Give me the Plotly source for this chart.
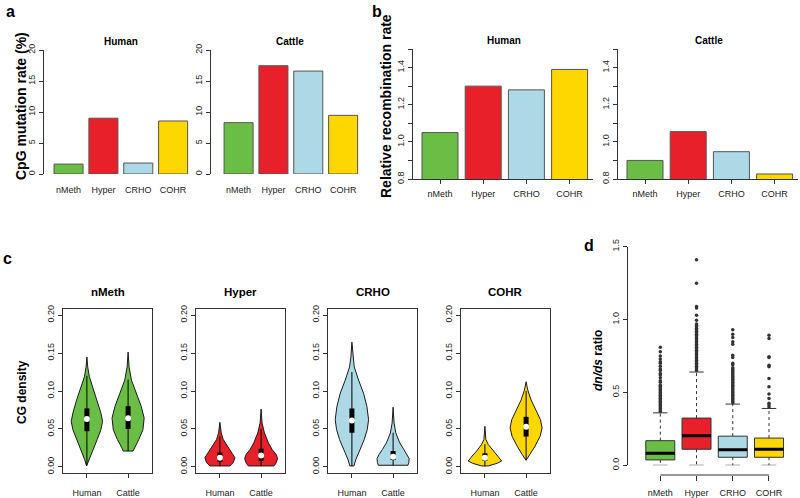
import plotly.graph_objects as go

W, H = 800, 498
def fx(p): return p / W
def fy(p): return 1 - p / H

FONT = "Liberation Sans, Arial, sans-serif"
DARK = "#333333"

# ---------------- data ----------------
categories = ["nMeth", "Hyper", "CRHO", "COHR"]
species = ["Human", "Cattle"]
colors = ["#6ABD45", "#E8202A", "#ADD8E6", "#FFD700"]

# panel a: CpG mutation rate (%)
cpg_human = [1.6, 9.0, 1.77, 8.55]
cpg_cattle = [8.28, 17.47, 16.6, 9.46]
cpg_ticks = [0, 5, 10, 15, 20]

# panel b: relative recombination rate
recomb_human = [1.05, 1.30, 1.28, 1.39]
recomb_cattle = [0.90, 1.055, 0.947, 0.827]
recomb_ticks = [0.8, 0.9, 1.0, 1.1, 1.2, 1.3, 1.4, 1.5]
recomb_ticktext = ["0.8", "", "1.0", "", "1.2", "", "1.4", ""]

# panel c: CG density violins (profile: y level, half-width)
v_nmeth_human_y = [0.1448, 0.1317, 0.1187, 0.110, 0.099, 0.0883, 0.0709, 0.060, 0.0491, 0.0361, 0.023, 0.010, 0.0013]
v_nmeth_human_w = [0.0, 0.02, 0.06, 0.113, 0.18, 0.25, 0.34, 0.38, 0.34, 0.25, 0.154, 0.057, 0.008]
v_nmeth_cattle_y = [0.1513, 0.1317, 0.1143, 0.097, 0.0796, 0.0643, 0.0491, 0.0361, 0.0252, 0.0209]
v_nmeth_cattle_w = [0.0, 0.024, 0.081, 0.20, 0.32, 0.39, 0.36, 0.26, 0.15, 0.12]
v_hyper_human_y = [0.0587, 0.0448, 0.0361, 0.0274, 0.0187, 0.0122, 0.0057, 0.0013]
v_hyper_human_w = [0.0, 0.032, 0.081, 0.178, 0.283, 0.364, 0.324, 0.24]
v_hyper_cattle_y = [0.0761, 0.0578, 0.0448, 0.0317, 0.023, 0.0165, 0.0109, 0.0048, 0.0013]
v_hyper_cattle_w = [0.0, 0.024, 0.081, 0.178, 0.267, 0.364, 0.40, 0.36, 0.31]
v_crho_human_y = [0.1643, 0.1448, 0.1317, 0.1143, 0.097, 0.0796, 0.0622, 0.0491, 0.0361, 0.023, 0.010, 0.0013]
v_crho_human_w = [0.0, 0.024, 0.057, 0.162, 0.283, 0.364, 0.405, 0.372, 0.30, 0.20, 0.097, 0.05]
v_crho_cattle_y = [0.0787, 0.0578, 0.0448, 0.0317, 0.023, 0.0165, 0.0109, 0.0057, 0.0022]
v_crho_cattle_w = [0.0, 0.024, 0.065, 0.162, 0.26, 0.34, 0.39, 0.38, 0.36]
v_cohr_human_y = [0.0535, 0.0361, 0.0296, 0.0209, 0.0143, 0.0078, 0.0048, 0.0013]
v_cohr_human_w = [0.0, 0.024, 0.081, 0.20, 0.31, 0.405, 0.30, 0.08]
v_cohr_cattle_y = [0.1122, 0.1013, 0.0883, 0.0752, 0.0622, 0.0513, 0.0404, 0.0274, 0.0165, 0.0087]
v_cohr_cattle_w = [0.0, 0.04, 0.12, 0.243, 0.348, 0.388, 0.34, 0.218, 0.097, 0.0]

cg_median_human = [0.063, 0.012, 0.061, 0.012]
cg_q1_human = [0.047, 0.007, 0.045, 0.008]
cg_q3_human = [0.077, 0.019, 0.077, 0.018]
cg_lo_human = [0.002, 0.001, 0.001, 0.001]
cg_hi_human = [0.120, 0.040, 0.125, 0.030]
cg_median_cattle = [0.064, 0.015, 0.0135, 0.053]
cg_q1_cattle = [0.050, 0.008, 0.009, 0.040]
cg_q3_cattle = [0.080, 0.024, 0.021, 0.066]
cg_lo_cattle = [0.021, 0.001, 0.002, 0.009]
cg_hi_cattle = [0.115, 0.050, 0.045, 0.100]
cg_ticks = [0.0, 0.05, 0.10, 0.15, 0.20]

# panel d: dn/ds boxplots
dnds_q1 = [0.037, 0.110, 0.055, 0.055]
dnds_median = [0.082, 0.203, 0.107, 0.110]
dnds_q3 = [0.169, 0.324, 0.200, 0.187]
dnds_lower = [0.0, 0.0, 0.0, 0.0]
dnds_upper = [0.36, 0.64, 0.42, 0.39]
out_nmeth = [0.37, 0.38, 0.39, 0.40, 0.41, 0.42, 0.43, 0.44, 0.45, 0.46, 0.47, 0.48, 0.49, 0.50,
             0.51, 0.52, 0.53, 0.54, 0.55, 0.57, 0.58, 0.60, 0.62, 0.63, 0.65, 0.66, 0.68, 0.70,
             0.71, 0.73, 0.75, 0.78, 0.81]
out_hyper = [0.65, 0.66, 0.67, 0.68, 0.69, 0.70, 0.71, 0.72, 0.73, 0.74, 0.75, 0.76, 0.77, 0.78,
             0.79, 0.80, 0.81, 0.82, 0.83, 0.84, 0.85, 0.86, 0.87, 0.88, 0.89, 0.90, 0.91, 0.92,
             0.93, 0.94, 0.95, 0.96, 0.97, 0.995, 1.03, 1.08, 1.09, 1.25, 1.41]
out_crho = [0.43, 0.44, 0.45, 0.46, 0.47, 0.48, 0.49, 0.50, 0.51, 0.52, 0.53, 0.54, 0.55, 0.56,
            0.57, 0.58, 0.59, 0.60, 0.61, 0.62, 0.63, 0.64, 0.65, 0.66, 0.67, 0.69, 0.70, 0.74,
            0.756, 0.83, 0.847, 0.877, 0.90, 0.93]
out_cohr = [0.40, 0.413, 0.425, 0.459, 0.489, 0.539, 0.596, 0.676, 0.687, 0.74, 0.744, 0.87, 0.893]
dnds_ticks = [0.0, 0.5, 1.0, 1.5]

# ---------------- figure ----------------
fig = go.Figure()
bar_pos = [0.7 + 1.2 * i for i in range(len(categories))]

def add_bars(vals, ax):
    fig.add_trace(go.Bar(x=bar_pos, y=vals, width=1.0, marker=dict(color=colors, line=dict(color="#555555", width=1)),
                         xaxis="x" + ax, yaxis="y" + ax, showlegend=False, hoverinfo="skip"))

add_bars(cpg_human, "")
add_bars(cpg_cattle, "2")
add_bars(recomb_human, "3")
add_bars(recomb_cattle, "4")

# violins
violins = [
    [(v_nmeth_human_y, v_nmeth_human_w), (v_nmeth_cattle_y, v_nmeth_cattle_w)],
    [(v_hyper_human_y, v_hyper_human_w), (v_hyper_cattle_y, v_hyper_cattle_w)],
    [(v_crho_human_y, v_crho_human_w), (v_crho_cattle_y, v_crho_cattle_w)],
    [(v_cohr_human_y, v_cohr_human_w), (v_cohr_cattle_y, v_cohr_cattle_w)],
]
stats = [
    (cg_median_human, cg_q1_human, cg_q3_human, cg_lo_human, cg_hi_human),
    (cg_median_cattle, cg_q1_cattle, cg_q3_cattle, cg_lo_cattle, cg_hi_cattle),
]
for i, cat in enumerate(categories):
    ax = str(5 + i)
    for j in range(2):
        c = j + 1
        ys, ws = violins[i][j]
        px = [c + w for w in ws] + [c - w for w in reversed(ws)] + [c + ws[0]]
        py = list(ys) + list(reversed(ys)) + [ys[0]]
        fig.add_trace(go.Scatter(x=px, y=py, mode="lines", fill="toself", fillcolor=colors[i],
                                 line=dict(color="#1a1a1a", width=1), xaxis="x" + ax, yaxis="y" + ax,
                                 showlegend=False, hoverinfo="skip"))
        med, q1, q3, lo, hi = (s[i] for s in stats[j])
        fig.add_trace(go.Scatter(x=[c, c], y=[lo, hi], mode="lines", line=dict(color="black", width=1),
                                 xaxis="x" + ax, yaxis="y" + ax, showlegend=False, hoverinfo="skip"))
        fig.add_trace(go.Scatter(x=[c, c], y=[q1, q3], mode="lines", line=dict(color="black", width=5),
                                 xaxis="x" + ax, yaxis="y" + ax, showlegend=False, hoverinfo="skip"))
        fig.add_trace(go.Scatter(x=[c], y=[med], mode="markers", marker=dict(color="white", size=6),
                                 xaxis="x" + ax, yaxis="y" + ax, showlegend=False, hoverinfo="skip"))

# boxplots
box_x = [1, 2, 3, 4]
outs = [out_nmeth, out_hyper, out_crho, out_cohr]
for i, cat in enumerate(categories):
    x = box_x[i]
    fig.add_trace(go.Box(x=[x], q1=[dnds_q1[i]], median=[dnds_median[i]], q3=[dnds_q3[i]],
                         lowerfence=[dnds_q1[i]], upperfence=[dnds_q3[i]], width=0.8, whiskerwidth=0,
                         fillcolor=colors[i], line=dict(color=DARK, width=1), boxpoints=False,
                         xaxis="x9", yaxis="y9", showlegend=False, hoverinfo="skip"))
    fig.add_trace(go.Scatter(x=[x - 0.4, x + 0.4], y=[dnds_median[i]] * 2, mode="lines",
                             line=dict(color="black", width=3), xaxis="x9", yaxis="y9",
                             showlegend=False, hoverinfo="skip"))
    fig.add_trace(go.Scatter(x=[x, x, None, x, x], y=[dnds_q3[i], dnds_upper[i], None, dnds_q1[i], dnds_lower[i]],
                             mode="lines", line=dict(color=DARK, width=1, dash="dot"), xaxis="x9", yaxis="y9",
                             showlegend=False, hoverinfo="skip"))
    fig.add_trace(go.Scatter(x=[x - 0.2, x + 0.2, None, x - 0.2, x + 0.2],
                             y=[dnds_upper[i], dnds_upper[i], None, dnds_lower[i], dnds_lower[i]],
                             mode="lines", line=dict(color=DARK, width=1), xaxis="x9", yaxis="y9",
                             showlegend=False, hoverinfo="skip"))
    fig.add_trace(go.Scatter(x=[x] * len(outs[i]), y=outs[i], mode="markers",
                             marker=dict(color=DARK, size=3.5), xaxis="x9", yaxis="y9",
                             showlegend=False, hoverinfo="skip", cliponaxis=False))

# ---------------- axes ----------------
tickfont = dict(family=FONT, size=9, color="#222222")
base_y = dict(showgrid=False, zeroline=False, showline=True, linecolor=DARK, linewidth=1, automargin=False,
              ticks="outside", ticklen=4, tickcolor=DARK, tickangle=-90, tickfont=tickfont)
base_x = dict(showgrid=False, zeroline=False, tickfont=tickfont, automargin=False)

layout = dict(width=W, height=H, margin=dict(l=0, r=0, t=0, b=0), paper_bgcolor="white",
              plot_bgcolor="white", showlegend=False, font=dict(family=FONT), template="none")

# panel a
layout["xaxis"] = dict(base_x, domain=[fx(44), fx(192)], range=[-0.145, 4.95], anchor="y",
                       tickvals=bar_pos, ticktext=categories, showline=False, ticks="", ticklabelstandoff=9)
layout["yaxis"] = dict(base_y, domain=[fy(174), fy(50)], range=[0, 20], anchor="x", tickvals=cpg_ticks)
layout["xaxis2"] = dict(base_x, domain=[fx(211), fx(362)], range=[-0.25, 4.95], anchor="y2",
                        tickvals=bar_pos, ticktext=categories, showline=False, ticks="", ticklabelstandoff=9)
layout["yaxis2"] = dict(base_y, domain=[fy(174), fy(50)], range=[0, 20], anchor="x2", tickvals=cpg_ticks)
# panel b
for k, left in (("3", 413), ("4", 618)):
    layout["xaxis" + k] = dict(base_x, domain=[fx(left), fx(left + 180)], range=[-0.05, 4.95], anchor="y" + k,
                               tickvals=bar_pos, ticktext=categories, showline=True, linecolor=DARK,
                               ticks="outside", ticklen=4, tickcolor=DARK, ticklabelstandoff=2)
    layout["yaxis" + k] = dict(base_y, domain=[fy(179), fy(49)], range=[0.8, 1.5], anchor="x" + k,
                               tickvals=recomb_ticks, ticktext=recomb_ticktext)
# panel c
for i, left in enumerate([63, 196, 328, 461]):
    k = str(5 + i)
    layout["xaxis" + k] = dict(base_x, domain=[fx(left), fx(left + 89)], range=[0.42, 2.58], anchor="y" + k,
                               tickvals=[1, 2], ticktext=species, showline=True, mirror=True, linecolor=DARK,
                               ticks="outside", ticklen=4, tickcolor=DARK, ticklabelstandoff=7)
    layout["yaxis" + k] = dict(base_y, domain=[fy(473), fy(309)], range=[-0.008, 0.208], anchor="x" + k,
                               mirror=True, tickvals=cg_ticks, tickformat=".2f")
# panel d
layout["xaxis9"] = dict(base_x, domain=[fx(628), fx(790)], range=[0.1085, 4.58], anchor="free",
                        position=fy(475), tickvals=box_x, ticktext=categories, showline=False,
                        ticks="outside", ticklen=5, tickcolor=DARK, ticklabelstandoff=4)
layout["yaxis9"] = dict(base_y, domain=[fy(465.3), fy(246.7)], range=[0, 1.5], anchor="x9",
                        tickvals=dnds_ticks, tickformat=".1f")

fig.update_layout(**layout)

fig.add_shape(type="line", xref="x9", yref="paper", x0=box_x[0], x1=box_x[-1], y0=fy(475), y1=fy(475),
              line=dict(color=DARK, width=1))

# ---------------- annotations ----------------
def ann(text, x, y, size, angle=0, bold=True):
    fig.add_annotation(text=("<b>%s</b>" % text) if bold else text, x=fx(x), y=fy(y), xref="paper", yref="paper",
                       showarrow=False, textangle=angle, font=dict(family=FONT, size=size, color="black"),
                       xanchor="center", yanchor="middle")

ann("a", 10, 12, 16)
ann("b", 377, 12, 16)
ann("c", 7, 258, 16)
ann("d", 589, 245, 16)
ann("Human", 121, 41, 10)
ann("Cattle", 290, 41, 10)
ann("Human", 504, 40, 10)
ann("Cattle", 709, 40, 10)
for i, cx in enumerate([107.5, 240.5, 372.5, 505.5]):
    ann(categories[i], cx, 292, 11.5)
ann("CpG mutation rate (%)", 21, 106, 14, -90)
ann("Relative recombination rate", 386, 106, 14, -90)
ann("CG density", 22, 392, 12, -90)
ann("<i>dn/ds</i> ratio", 598, 361, 12, -90)

fig.write_html("out.html", config={"displayModeBar": False},
               post_script="document.body.style.margin='0';document.body.style.overflow='hidden';")
